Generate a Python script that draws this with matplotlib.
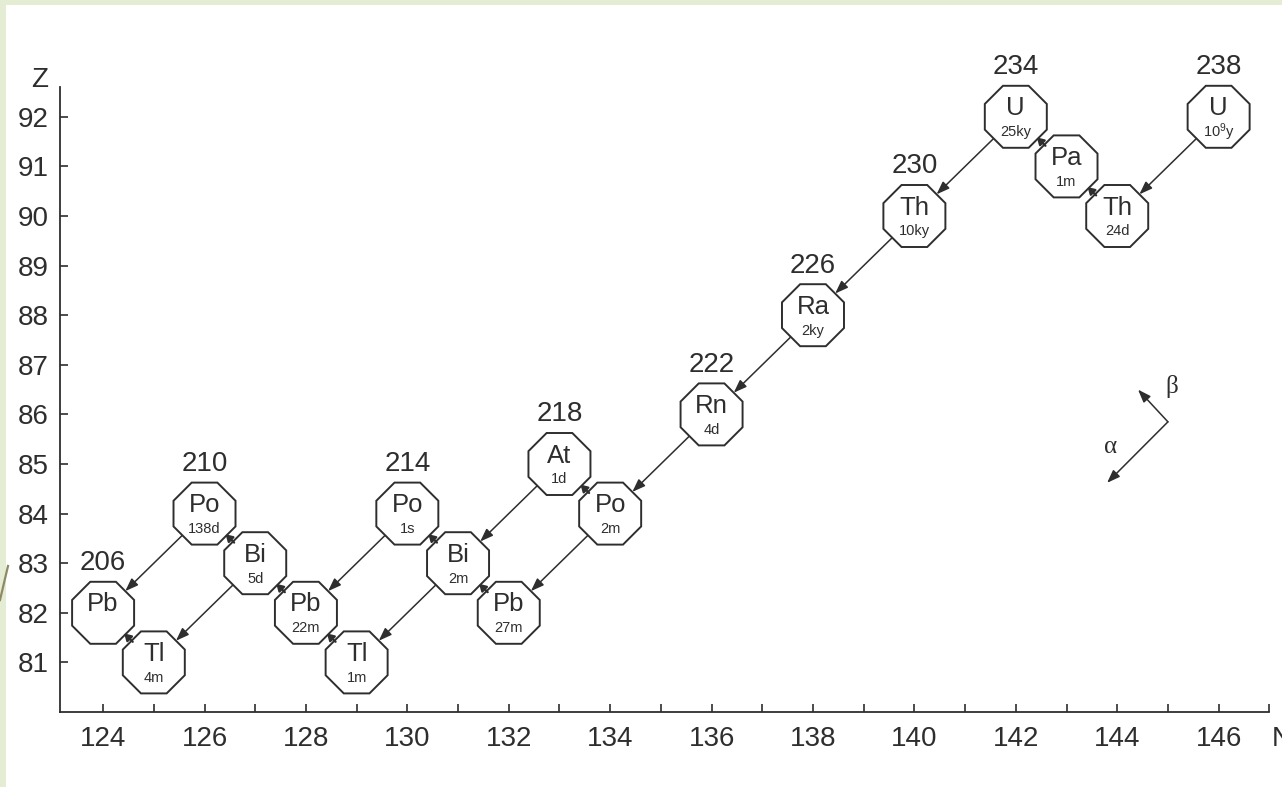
import numpy as np
import matplotlib
matplotlib.use("Agg")
import matplotlib.pyplot as plt
from matplotlib.patches import Polygon, FancyArrowPatch, Rectangle
from matplotlib.lines import Line2D

plt.rcParams["font.family"] = ["Liberation Sans", "DejaVu Sans"]
plt.rcParams["mathtext.fontset"] = "custom"
plt.rcParams["mathtext.rm"] = "Liberation Sans"
plt.rcParams["mathtext.it"] = "Liberation Sans"

# Uranium-238 decay series: element, neutron number N, proton number Z
symbols = ["U", "Th", "Pa", "U", "Th", "Ra", "Rn", "Po", "At",
           "Pb", "Bi", "Po", "Tl", "Pb", "Bi", "Po", "Tl", "Pb"]
neutrons = [146, 144, 143, 142, 140, 138, 136, 134, 133,
            132, 131, 130, 129, 128, 127, 126, 125, 124]
protons = [92, 90, 91, 92, 90, 88, 86, 84, 85,
           82, 83, 84, 81, 82, 83, 84, 81, 82]
half_lives = [r"10$^{9}$y", "24d", "1m", "25ky", "10ky", "2ky", "4d", "2m", "1d",
              "27m", "2m", "1s", "1m", "22m", "5d", "138d", "4m", ""]
alpha_decay = [True, False, False, True, True, True, True, True, True,
               False, True, True, False, False, True, True, False, False]
beta_decay = [False, True, True, False, False, False, False, True, False,
              True, True, False, True, True, True, False, True, False]
show_mass = [True, False, False, True, True, True, True, False, True,
             False, False, True, False, False, False, True, False, True]

x_ticks = list(range(124, 148))
x_tick_labels = [str(n) if (n % 2 == 0 and n <= 146) else "" for n in x_ticks]
y_ticks = list(range(81, 93))

INK = "#2e2e2e"
W, H = 1282, 787

fig = plt.figure(figsize=(W / 100, H / 100), dpi=100)
fig.patch.set_facecolor("white")

# slide frame
frame = "#e5ecd4"
fig.patches.append(Rectangle((0, 0), 6 / W, 1, transform=fig.transFigure,
                             facecolor=frame, edgecolor="none", zorder=0))
fig.patches.append(Rectangle((0, 1 - 5 / H), 1, 5 / H, transform=fig.transFigure,
                             facecolor=frame, edgecolor="none", zorder=0))
fig.lines.append(Line2D([0 / W, 8 / W], [1 - 600 / H, 1 - 566 / H],
                        transform=fig.transFigure, color="#8f8a66", lw=1.6))

ax_left, ax_bottom, ax_w, ax_h = 60, 75, 1221, 669.6
ax = fig.add_axes([ax_left / W, ax_bottom / H, ax_w / W, ax_h / H])
ax.set_facecolor("none")
xlo, xhi = 123.15, 147.23
ylo, yhi = 80.0, 93.5
ax.set_xlim(xlo, xhi)
ax.set_ylim(ylo, yhi)
px_x = ax_w / (xhi - xlo)
px_y = ax_h / (yhi - ylo)

for s in ["top", "right"]:
    ax.spines[s].set_visible(False)
for s in ["left", "bottom"]:
    ax.spines[s].set_color(INK)
    ax.spines[s].set_linewidth(1.3)
ax.spines["left"].set_bounds(80, 92.6)
ax.spines["bottom"].set_bounds(xlo, 147)

ax.set_xticks(x_ticks)
ax.set_xticklabels(x_tick_labels)
ax.set_yticks(y_ticks)
ax.set_yticklabels([str(z) for z in y_ticks])
ax.tick_params(axis="both", direction="in", length=6, width=1.2, color=INK,
               labelsize=20, labelcolor=INK)
ax.tick_params(axis="x", pad=10)
ax.tick_params(axis="y", pad=8)

ax.text(122.75, 92.75, "Z", fontsize=20, color=INK, ha="center", va="center",
        clip_on=False)
ax.text(147.05, 79.45, "N", fontsize=20, color=INK, ha="left", va="center",
        clip_on=False)

# octagon geometry (pixels)
apothem = 31.0
R = apothem / np.cos(np.pi / 8)
ang = np.pi / 8 + np.arange(8) * np.pi / 4
oct_dx = R * np.cos(ang) / px_x
oct_dy = R * np.sin(ang) / px_y
shrink_pt = apothem * 72 / 100

for sym, n, z, hl, show in zip(symbols, neutrons, protons, half_lives, show_mass):
    verts = np.column_stack([n + oct_dx, z + oct_dy])
    ax.add_patch(Polygon(verts, closed=True, facecolor="white", edgecolor=INK,
                         lw=1.4, zorder=3))
    ax.text(n, z + 0.17, sym, fontsize=18.5, color=INK, ha="center", va="center",
            zorder=4)
    if hl:
        ax.text(n, z - 0.31, hl, fontsize=10.5, color=INK, ha="center",
                va="center", zorder=4)
    if show:
        ax.text(n, z + 1.0, str(n + z), fontsize=20, color=INK, ha="center",
                va="center", zorder=4)

arrow_style = "-|>,head_length=0.6,head_width=0.22"

# alpha decays: (N, Z) -> (N-2, Z-2)
for n, z, a in zip(neutrons, protons, alpha_decay):
    if a:
        ax.add_patch(FancyArrowPatch((n, z), (n - 2, z - 2),
                                     arrowstyle=arrow_style,
                                     mutation_scale=13, shrinkA=shrink_pt,
                                     shrinkB=shrink_pt, lw=1.1, color=INK,
                                     zorder=2))

# beta decays: (N, Z) -> (N-1, Z+1)
diag_px = np.hypot(px_x, px_y)
beta_len = 12.0
beta_shrink = (diag_px - beta_len) / 2 * 72 / 100
for n, z, b in zip(neutrons, protons, beta_decay):
    if b:
        ax.add_patch(FancyArrowPatch((n, z), (n - 1, z + 1),
                                     arrowstyle="-|>,head_length=0.5,head_width=0.3",
                                     mutation_scale=8, shrinkA=beta_shrink,
                                     shrinkB=beta_shrink, lw=1.6, color=INK,
                                     zorder=5))

# decay-direction key
corner = (145.0, 85.85)
ax.add_patch(FancyArrowPatch(corner, (144.41, 86.5),
                             arrowstyle=arrow_style,
                             mutation_scale=13, shrinkA=0, shrinkB=0, lw=1.1,
                             color=INK))
ax.add_patch(FancyArrowPatch(corner, (143.8, 84.62),
                             arrowstyle=arrow_style,
                             mutation_scale=13, shrinkA=0, shrinkB=0, lw=1.1,
                             color=INK))
ax.text(145.07, 86.56, "β", fontsize=18, family=["Liberation Serif", "DejaVu Serif"],
        color=INK, ha="center", va="center")
ax.text(143.86, 85.35, "α", fontsize=18, family=["Liberation Serif", "DejaVu Serif"],
        color=INK, ha="center", va="center")

fig.savefig("out.png", dpi=100, facecolor=fig.get_facecolor())
